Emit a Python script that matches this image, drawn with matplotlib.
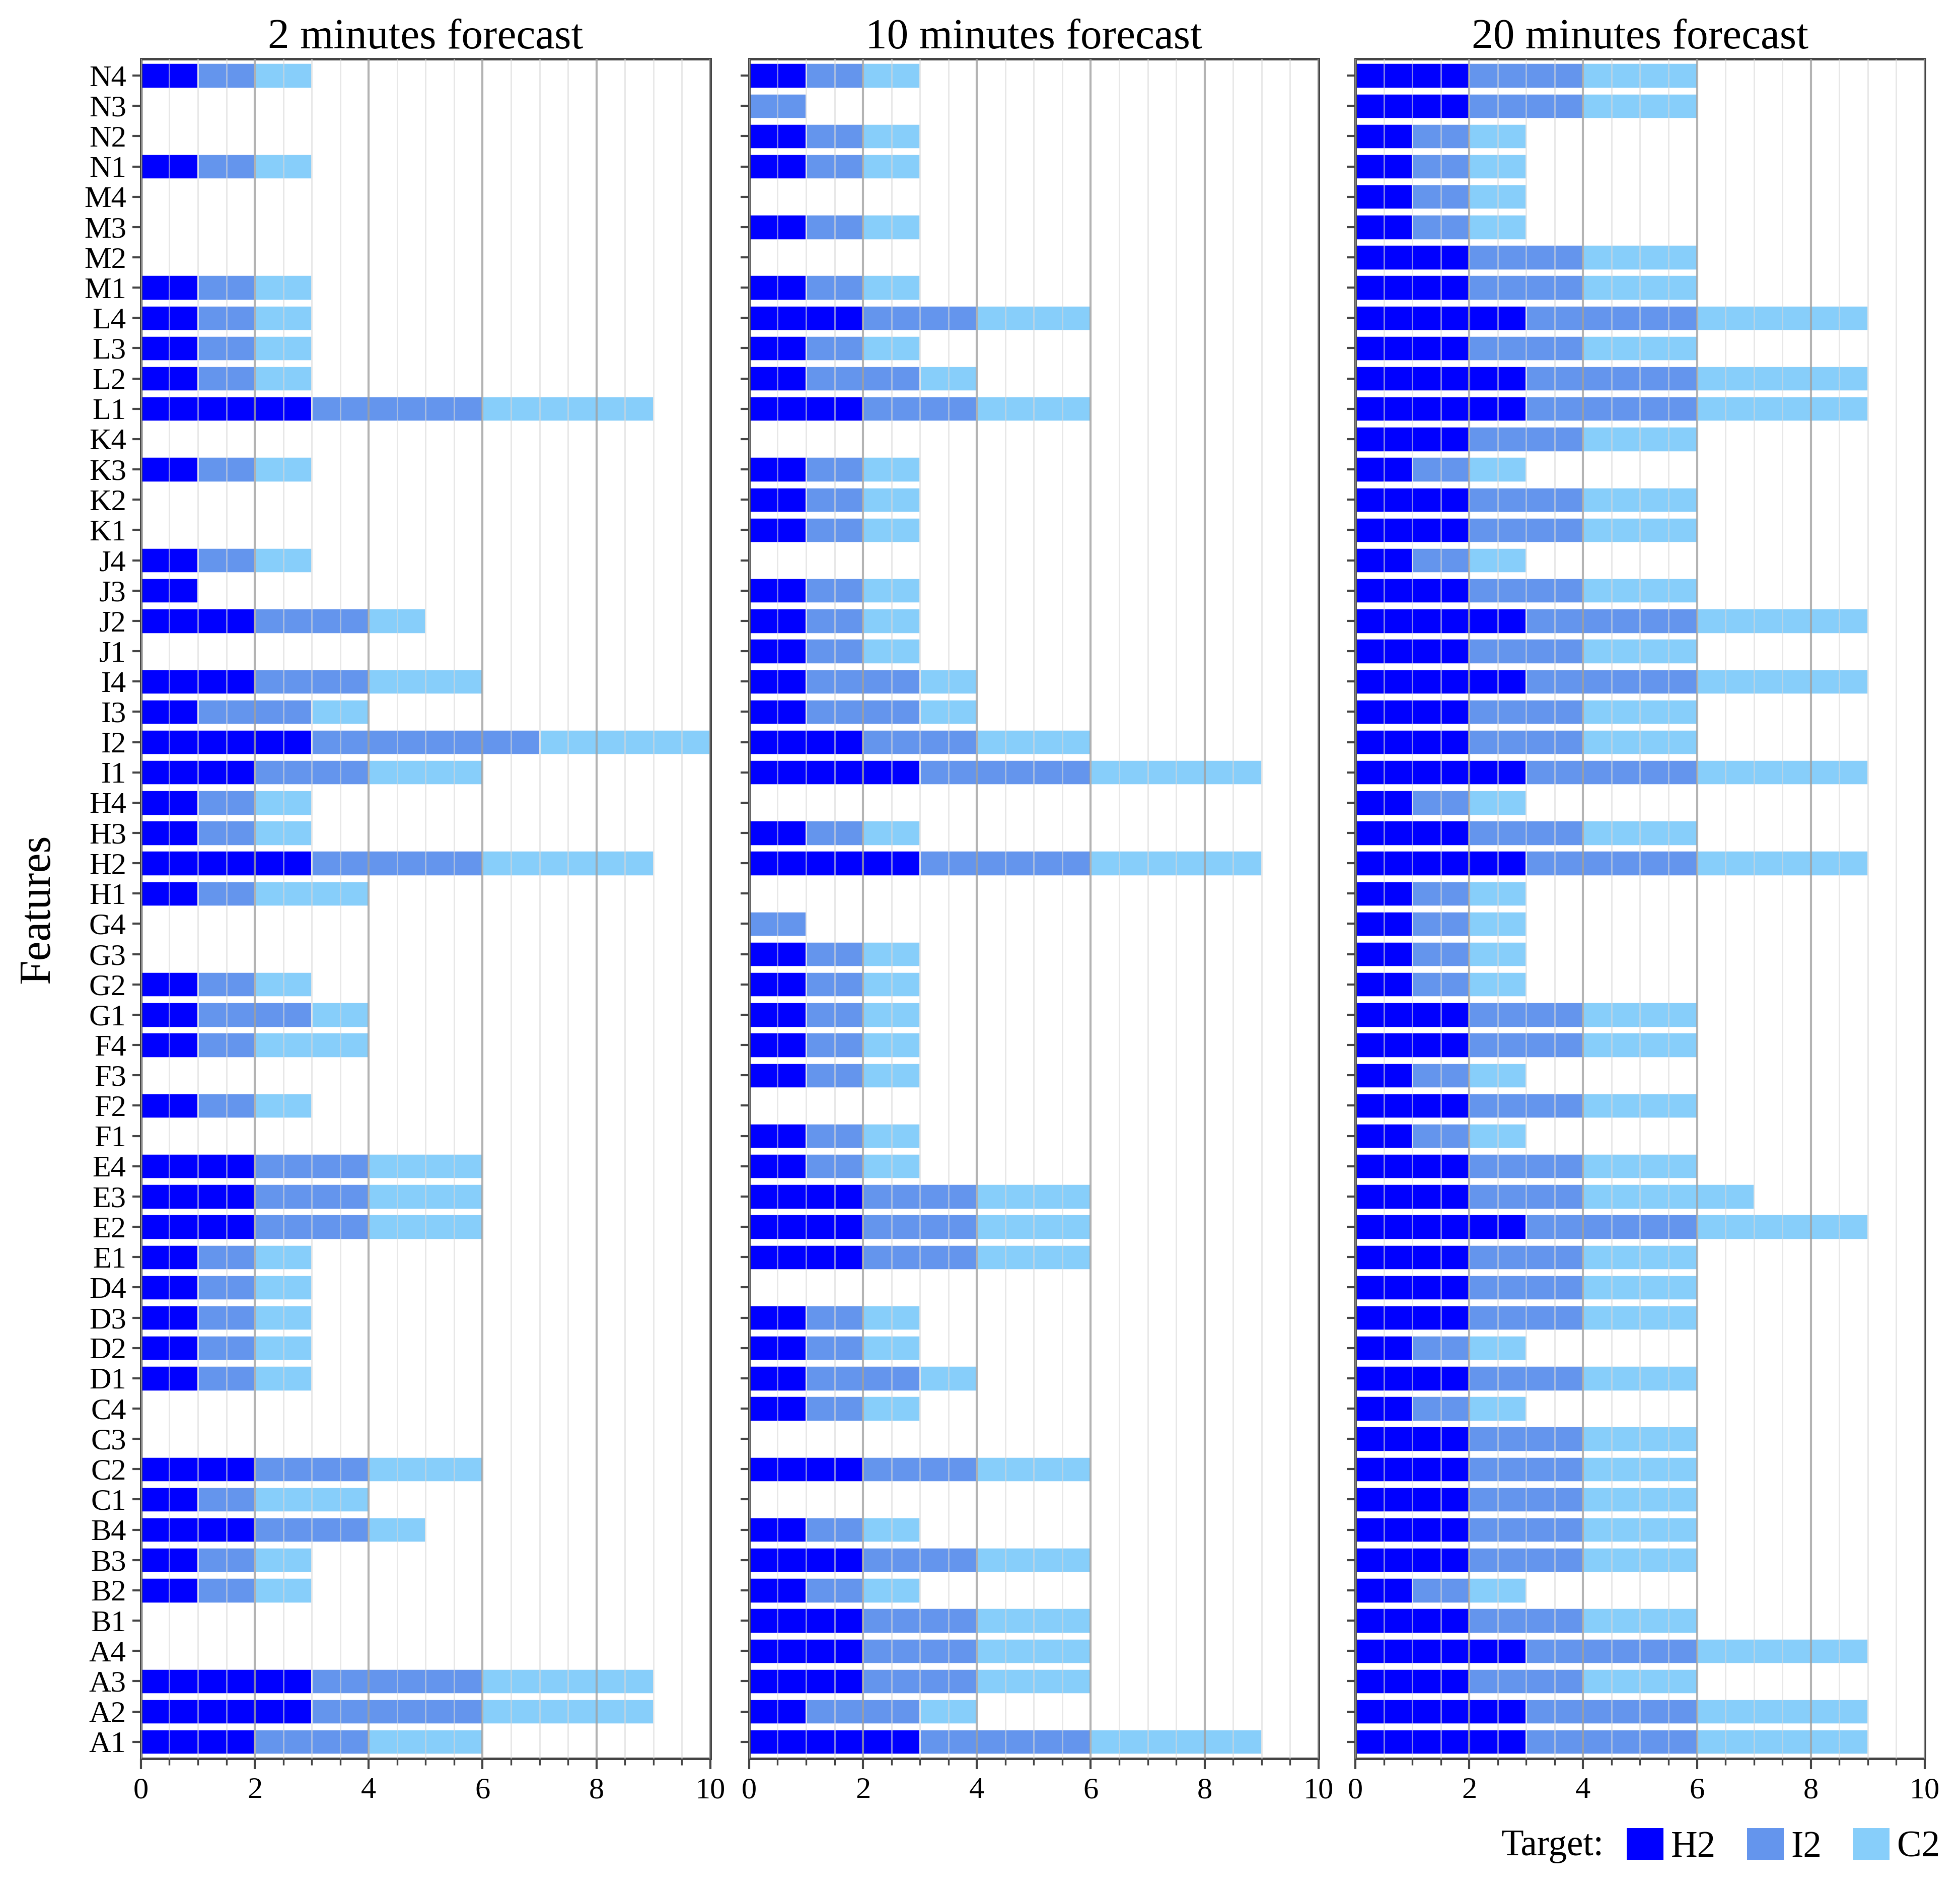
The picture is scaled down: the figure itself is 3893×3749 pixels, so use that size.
import numpy as np
import matplotlib
matplotlib.use("Agg")
import matplotlib.pyplot as plt
from matplotlib.patches import Patch
from matplotlib.ticker import MultipleLocator

plt.rcParams['font.family'] = ['Liberation Serif', 'DejaVu Serif']

# feature names, bottom (A1) to top (N4)
features = [f"{g}{i}" for g in "ABCDEFGHIJKLMN" for i in range(1, 5)]

targets = ["H2", "I2", "C2"]
colors = ["#0000ff", "#6495ed", "#87cefa"]
titles = ["2 minutes forecast", "10 minutes forecast", "20 minutes forecast"]

# counts per feature, grouped by letter: A1-A4, B1-B4, ..., N1-N4
h2_2min = [2, 3, 3, 0,  0, 1, 1, 2,  1, 2, 0, 0,  1, 1, 1, 1,
           1, 2, 2, 2,  0, 1, 0, 1,  1, 1, 0, 0,  1, 3, 1, 1,
           2, 3, 1, 2,  0, 2, 1, 1,  0, 0, 1, 0,  3, 1, 1, 1,
           1, 0, 0, 0,  1, 0, 0, 1]
i2_2min = [2, 3, 3, 0,  0, 1, 1, 2,  1, 2, 0, 0,  1, 1, 1, 1,
           1, 2, 2, 2,  0, 1, 0, 1,  2, 1, 0, 0,  1, 3, 1, 1,
           2, 4, 2, 2,  0, 2, 0, 1,  0, 0, 1, 0,  3, 1, 1, 1,
           1, 0, 0, 0,  1, 0, 0, 1]
c2_2min = [2, 3, 3, 0,  0, 1, 1, 1,  2, 2, 0, 0,  1, 1, 1, 1,
           1, 2, 2, 2,  0, 1, 0, 2,  1, 1, 0, 0,  2, 3, 1, 1,
           2, 3, 1, 2,  0, 1, 0, 1,  0, 0, 1, 0,  3, 1, 1, 1,
           1, 0, 0, 0,  1, 0, 0, 1]

h2_10min = [3, 1, 2, 2,  2, 1, 2, 1,  0, 2, 0, 1,  1, 1, 1, 0,
            2, 2, 2, 1,  1, 0, 1, 1,  1, 1, 1, 0,  0, 3, 1, 0,
            3, 2, 1, 1,  1, 1, 1, 0,  1, 1, 1, 0,  2, 1, 1, 2,
            1, 0, 1, 0,  1, 1, 0, 1]
i2_10min = [3, 2, 2, 2,  2, 1, 2, 1,  0, 2, 0, 1,  2, 1, 1, 0,
            2, 2, 2, 1,  1, 0, 1, 1,  1, 1, 1, 1,  0, 3, 1, 0,
            3, 2, 2, 2,  1, 1, 1, 0,  1, 1, 1, 0,  2, 2, 1, 2,
            1, 0, 1, 0,  1, 1, 1, 1]
c2_10min = [3, 1, 2, 2,  2, 1, 2, 1,  0, 2, 0, 1,  1, 1, 1, 0,
            2, 2, 2, 1,  1, 0, 1, 1,  1, 1, 1, 0,  0, 3, 1, 0,
            3, 2, 1, 1,  1, 1, 1, 0,  1, 1, 1, 0,  2, 1, 1, 2,
            1, 0, 1, 0,  1, 1, 0, 1]

h2_20min = [3, 3, 2, 3,  2, 1, 2, 2,  2, 2, 2, 1,  2, 1, 2, 2,
            2, 3, 2, 2,  1, 2, 1, 2,  2, 1, 1, 1,  1, 3, 2, 1,
            3, 2, 2, 3,  2, 3, 2, 1,  2, 2, 1, 2,  3, 3, 2, 3,
            2, 2, 1, 1,  1, 1, 2, 2]
i2_20min = [3, 3, 2, 3,  2, 1, 2, 2,  2, 2, 2, 1,  2, 1, 2, 2,
            2, 3, 2, 2,  1, 2, 1, 2,  2, 1, 1, 1,  1, 3, 2, 1,
            3, 2, 2, 3,  2, 3, 2, 1,  2, 2, 1, 2,  3, 3, 2, 3,
            2, 2, 1, 1,  1, 1, 2, 2]
c2_20min = [3, 3, 2, 3,  2, 1, 2, 2,  2, 2, 2, 1,  2, 1, 2, 2,
            2, 3, 3, 2,  1, 2, 1, 2,  2, 1, 1, 1,  1, 3, 2, 1,
            3, 2, 2, 3,  2, 3, 2, 1,  2, 2, 1, 2,  3, 3, 2, 3,
            2, 2, 1, 1,  1, 1, 2, 2]

panels = [
    (h2_2min, i2_2min, c2_2min),
    (h2_10min, i2_10min, c2_10min),
    (h2_20min, i2_20min, c2_20min),
]

fig = plt.figure(figsize=(3893 / 300, 3749 / 300), dpi=300)
lefts = [0.0719, 0.3822, 0.6915]
y = np.arange(len(features))

for k, (left, series) in enumerate(zip(lefts, panels)):
    ax = fig.add_axes([left, 0.0686, 0.2905, 0.9002])
    base = np.zeros(len(features))
    for vals, col in zip(series, colors):
        vals = np.array(vals, dtype=float)
        ax.barh(y, vals, left=base, height=0.82, color=col,
                edgecolor="white", linewidth=0.6, zorder=2)
        base += vals

    ax.set_xlim(0, 10)
    ax.set_ylim(-0.55, len(features) - 0.45)
    ax.xaxis.set_major_locator(MultipleLocator(2))
    ax.xaxis.set_minor_locator(MultipleLocator(0.5))
    ax.grid(axis="x", which="major", color="#a0a0a0", linewidth=1.0,
            alpha=0.8, zorder=3)
    ax.grid(axis="x", which="minor", color="#d8d8d8", linewidth=0.7,
            alpha=0.6, zorder=3)
    ax.set_axisbelow(False)

    ax.set_yticks(y)
    if k == 0:
        ax.set_yticklabels(features, fontsize=14.5)
        ax.set_ylabel("Features", fontsize=21, labelpad=12)
    else:
        ax.set_yticklabels([])
    ax.tick_params(axis="x", labelsize=14.5, which="major", length=5,
                   width=1.0, color="#444444", pad=4)
    ax.tick_params(axis="x", which="minor", length=3, width=0.8,
                   color="#444444")
    ax.tick_params(axis="y", length=4, width=1.0, color="#444444", pad=3)
    for s in ax.spines.values():
        s.set_color("#444444")
        s.set_linewidth(1.2)
    ax.set_title(titles[k], fontsize=20.5, pad=5)

handles = [Patch(facecolor=c, edgecolor="none") for c in colors]
fig.legend(handles, targets, loc="center left", bbox_to_anchor=(0.830, 0.022),
           ncol=3, frameon=False, fontsize=17.5, handlelength=1.0,
           handleheight=0.95, handletextpad=0.2, columnspacing=0.85,
           borderaxespad=0, borderpad=0)
fig.text(0.766, 0.022, "Target:", fontsize=17.5, ha="left", va="center")

fig.savefig("out.png", dpi=300)
